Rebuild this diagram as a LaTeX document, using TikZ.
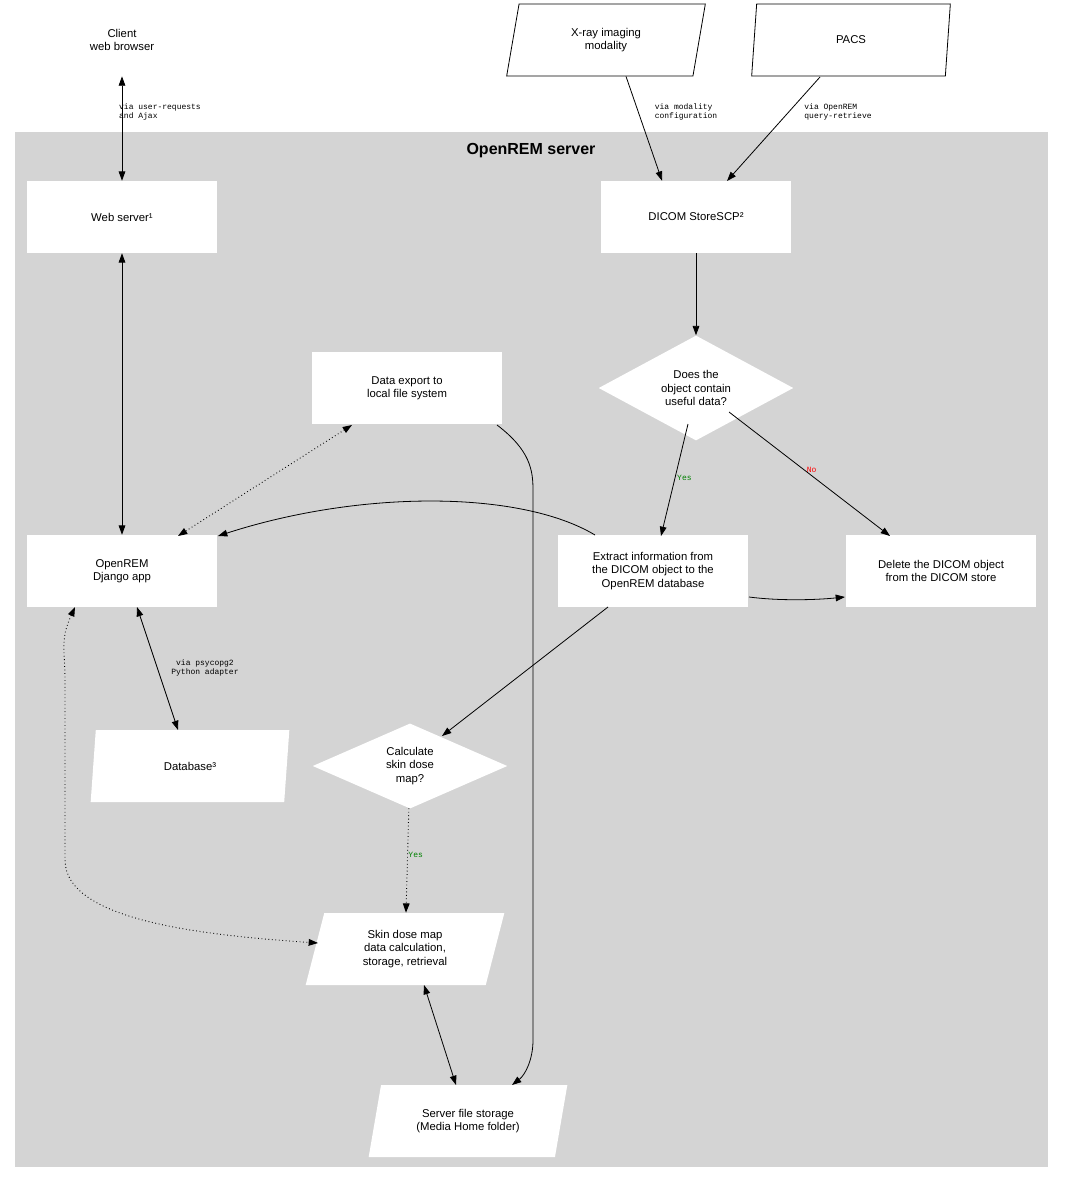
\documentclass[tikz,border=0pt]{standalone}
\usepackage{fontspec}
\setmainfont{Liberation Sans}
\newfontfamily\lblfont{Liberation Mono}
\usetikzlibrary{shapes.geometric,arrows.meta}
\begin{document}
\begin{tikzpicture}[x=0.75pt,y=-0.75pt,
  every node/.style={font=\fontsize{8.5}{10}\selectfont,align=center},
  box/.style={draw=none,fill=white,minimum width=143pt,minimum height=54pt,inner sep=1pt},
  para/.style={trapezium,trapezium left angle=65,trapezium right angle=115,trapezium stretches body=true,fill=white,minimum width=149pt,minimum height=54pt,inner sep=1pt},
  dia/.style={diamond,fill=white,minimum width=146pt,minimum height=54pt,inner sep=0pt},
  lbl/.style={font=\lblfont\fontsize{6}{7}\selectfont,align=left},
  arr/.style={-{Triangle[length=7pt,width=5pt]},line width=0.6pt},
  barr/.style={{Triangle[length=7pt,width=5pt]}-{Triangle[length=7pt,width=5pt]},line width=0.6pt},
  dot/.style={dotted,line width=0.7pt}]
\useasboundingbox (0,0) rectangle (1064,1184);
\fill[white] (0,0) rectangle (1064,1184);
\fill[black!17] (15,132) rectangle (1048,1167);
\node[font=\bfseries\fontsize{12}{14}\selectfont] (title) at (531,151) {OpenREM server};
\node[draw,rounded corners=10pt,line width=0.6pt,box,fill=white] (client) at (122,40) {Client\\web browser};
\node[para,draw,line width=0.6pt] (xray) at (606,40) {X-ray imaging\\modality};
\node[para,draw,line width=0.6pt] (pacs) at (851,40) {PACS};
\node[box] (web) at (122,217) {Web server¹};
\node[box] (dicom) at (696,217) {DICOM StoreSCP²};
\node[dia] (useful) at (696,388) {Does the\\object contain\\useful data?};
\node[box] (export) at (407,388) {Data export to\\local file system};
\node[box] (django) at (122,571) {OpenREM\\Django app};
\node[box] (extract) at (653,571) {Extract information from\\the DICOM object to the\\OpenREM database};
\node[box] (delete) at (941,571) {Delete the DICOM object\\from the DICOM store};
\node[para] (db) at (190,766) {Database³};
\node[dia] (calc) at (410,766) {Calculate\\skin dose\\map?};
\node[para] (skin) at (405,949) {Skin dose map\\data calculation,\\storage, retrieval};
\node[para] (store) at (468,1121) {Server file storage\\(Media Home folder)};

\draw[barr] (client) -- (web);
\node[lbl] (l1) at (160,112) {via user-requests\\and Ajax};
\draw[arr] (xray.south) ++(20,0) coordinate (xs) (xs) -- (dicom.north -| 662,0);
\node[lbl] (l2) at (686,112) {via modality\\configuration};
\draw[arr] (820,77) -- (727,181);
\node[lbl] (l3) at (838,112) {via OpenREM\\query-retrieve};
\draw[barr] (web) -- (django);
\draw[arr] (dicom) -- (useful);
\draw[arr] (688,424) -- (661,536) node[pos=0.48,right=-2pt,text=green!50!black,lbl] {Yes};
\draw[arr] (729,412) -- (890,536) node[pos=0.47,right=-2pt,text=red,lbl] {No};
\draw[arr] (595,535) .. controls (520,490) and (360,490) .. (218,536);
\draw[arr] (749,597) .. controls (780,601) and (815,600) .. (845,597);
\draw[barr,dot] (352,425) -- (178,536);
\draw[arr] (497,425) .. controls (530,450) and (533,470) .. (533,490) -- (533,1040) .. controls (533,1060) and (525,1075) .. (512,1085);
\draw[arr] (608,607) -- (442,736);
\draw[barr] (137,607) -- (178,730);
\node[lbl] (l4) at (205,668) {\ via psycopg2\\Python adapter};
\draw[arr,dot] (calc) -- (skin) node[pos=0.45,right=-3pt,text=green!50!black,lbl] {Yes};
\draw[barr,dot] (75,607) .. controls (60,640) and (65,650) .. (65,680) -- (65,860) .. controls (65,920) and (200,935) .. (318,943);
\draw[barr] (424,985) -- (456,1085);
\end{tikzpicture}
\end{document}
